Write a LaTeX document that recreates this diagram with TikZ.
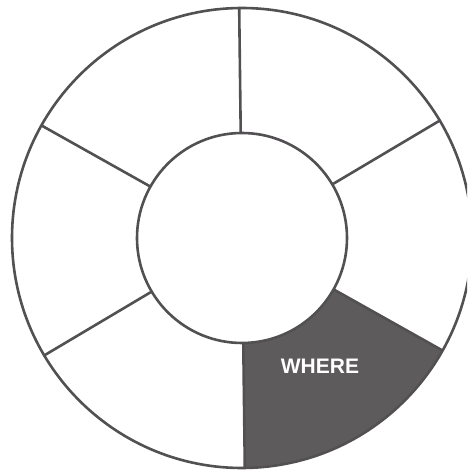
\documentclass[tikz,border=0pt]{standalone}
\usepackage{fontspec}
\setmainfont{Liberation Sans}
\definecolor{ringline}{RGB}{82,80,82}
\definecolor{sectorfill}{RGB}{94,91,92}
\tikzset{
  ring/.style={draw=ringline, line width=2.6pt},
  shade sector/.style={fill=sectorfill},
  sectorlabel/.style={text=white, font=\bfseries\fontsize{21}{21}\selectfont, inner sep=0pt}
}
\begin{document}
\begin{tikzpicture}[x=1pt,y=1pt]
\useasboundingbox (0,0) rectangle (467,471);
\clip (0,0) rectangle (467,471);
\coordinate (c) at (242,233);
\begin{scope}[shift={(c)}, rotate=0.7]
  \fill[shade sector] (-90:105) -- (-90:230) arc[start angle=-90,end angle=-30,radius=230]
     -- (-30:105) arc[start angle=-30,end angle=-90,radius=105] -- cycle;
  \draw[ring] (0,0) circle[radius=230];
  \draw[ring] (0,0) circle[radius=105];
  \foreach \a in {90,30,150,210,270,330}
    \draw[ring] (\a:105) -- (\a:230);
\end{scope}
\node[sectorlabel] (where) at (320,104.5) {WHERE};
\end{tikzpicture}
\end{document}
